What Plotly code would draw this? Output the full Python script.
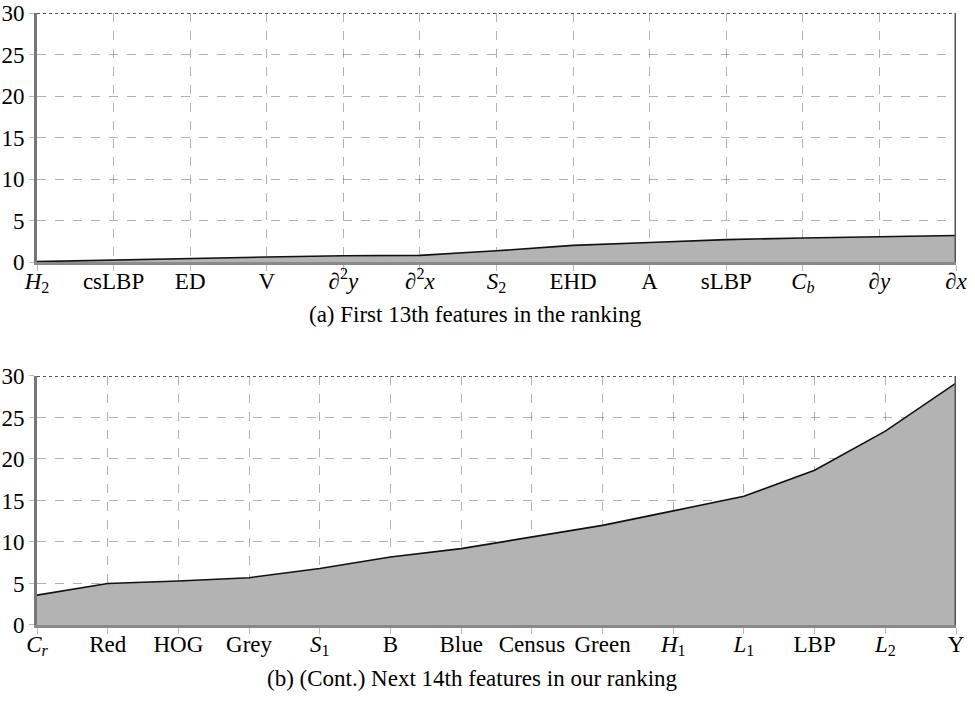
import plotly.graph_objects as go
from plotly.subplots import make_subplots

# ---- data ----
labels_a = ["<i>H</i><sub>2</sub>", "csLBP", "ED", "V", "∂<sup>2</sup><i>y</i>", "∂<sup>2</sup><i>x</i>",
            "<i>S</i><sub>2</sub>", "EHD", "A", "sLBP", "<i>C</i><sub><i>b</i></sub>", "∂<i>y</i>", "∂<i>x</i>"]
values_a = [0.05, 0.25, 0.45, 0.6, 0.75, 0.8, 1.35, 2.0, 2.35, 2.7, 2.9, 3.05, 3.2]

labels_b = ["<i>C</i><sub><i>r</i></sub>", "Red", "HOG", "Grey", "<i>S</i><sub>1</sub>", "B", "Blue",
            "Census", "Green", "<i>H</i><sub>1</sub>", "<i>L</i><sub>1</sub>", "LBP", "<i>L</i><sub>2</sub>", "Y"]
values_b = [3.6, 5.0, 5.3, 5.7, 6.8, 8.2, 9.2, 10.6, 12.0, 13.75, 15.5, 18.65, 23.35, 29.15]

y_ticks = [0, 5, 10, 15, 20, 25, 30]
caption_a = "(a) First 13th features in the ranking"
caption_b = "(b) (Cont.) Next 14th features in our ranking"

FONT = "Liberation Serif, Times New Roman, serif"
FILL = "#b3b3b3"
FS = 23

fig = make_subplots(rows=2, cols=1, vertical_spacing=0.0)

for row, (labels, values) in enumerate([(labels_a, values_a), (labels_b, values_b)], start=1):
    xs = list(range(len(labels)))
    fig.add_trace(go.Scatter(x=xs, y=values, mode="lines", fill="tozeroy",
                             fillcolor=FILL, line=dict(color="#111111", width=1.6),
                             showlegend=False, hoverinfo="skip"), row=row, col=1)
    fig.update_xaxes(range=[0, len(labels) - 1], tickmode="array", tickvals=xs, ticktext=labels,
                     showgrid=True, gridcolor="rgba(0,0,0,0.3)", griddash="dash", gridwidth=1,
                     showline=True, linecolor="#8a8a8a", linewidth=3,
                     ticks="outside", ticklen=6, tickcolor="#bbbbbb", tickwidth=1,
                     tickfont=dict(family=FONT, size=FS, color="black"),
                     ticklabelstandoff=-10, automargin=False,
                     layer="above traces", zeroline=False, row=row, col=1)
    fig.update_yaxes(range=[0, 30], tickmode="array", tickvals=y_ticks,
                     showgrid=True, gridcolor="rgba(0,0,0,0.3)", griddash="dash", gridwidth=1,
                     showline=True, linecolor="#777777", linewidth=3,
                     ticks="outside", ticklen=5, tickcolor="#bbbbbb", tickwidth=1,
                     tickfont=dict(family=FONT, size=FS, color="black"),
                     automargin=False,
                     layer="above traces", zeroline=False, row=row, col=1)

# domains matching reference pixel layout
fig.update_layout(
    xaxis=dict(domain=[0, 1]), xaxis2=dict(domain=[0, 1]),
    yaxis=dict(domain=[0.5931, 1.0]), yaxis2=dict(domain=[0.0, 0.4069]),
)

# right border and top dotted border for each panel
for xref, yref, n in [("x", "y", len(labels_a)), ("x2", "y2", len(labels_b))]:
    fig.add_shape(type="line", xref=xref, yref=yref, x0=n - 1, x1=n - 1, y0=0, y1=30,
                  line=dict(color="#555555", width=3), layer="above")
    fig.add_shape(type="line", xref=xref, yref=yref, x0=0, x1=n - 1, y0=30, y1=30,
                  line=dict(color="#555555", width=2, dash="dot"), layer="above")

fig.add_annotation(text=caption_a, xref="paper", yref="paper", x=0.2938, y=0.508,
                   xanchor="left", yanchor="middle", showarrow=False,
                   font=dict(family=FONT, size=FS, color="black"))
fig.add_annotation(text=caption_b, xref="paper", yref="paper", x=0.248, y=-0.088,
                   xanchor="left", yanchor="middle", showarrow=False,
                   font=dict(family=FONT, size=FS, color="black"))

fig.update_layout(width=975, height=703, margin=dict(l=37, r=19, t=13, b=78),
                  plot_bgcolor="white", paper_bgcolor="white",
                  font=dict(family=FONT, size=FS, color="black"))

fig.write_html("out.html")
